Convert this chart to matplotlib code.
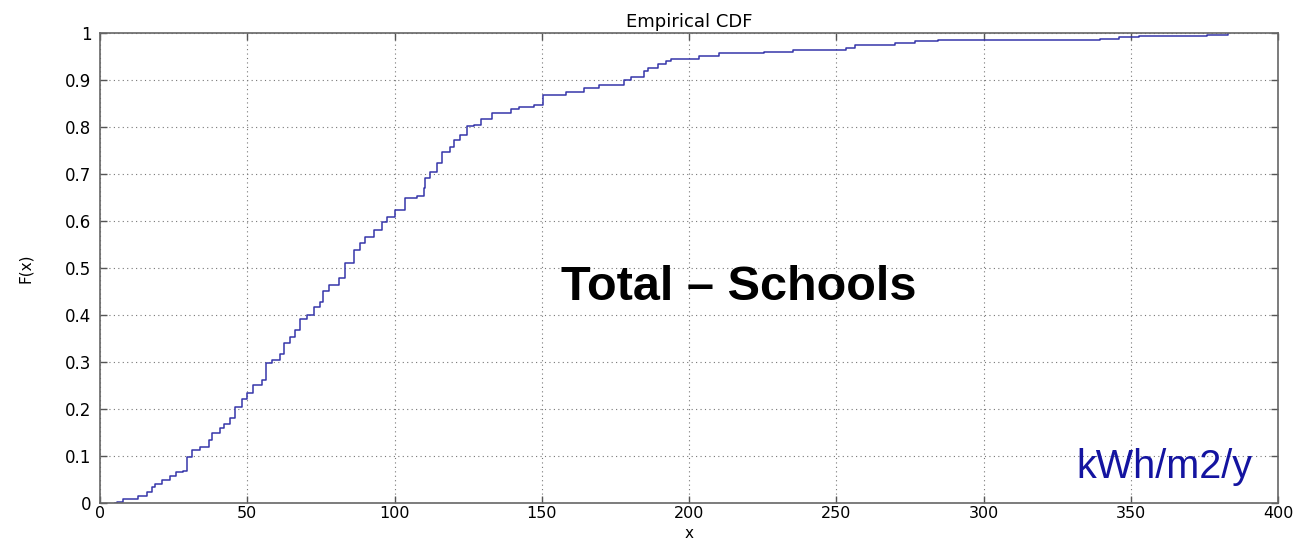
import matplotlib
matplotlib.use("Agg")
import matplotlib.pyplot as plt

# ECDF breakpoints (x value, F(x) after the step)
x_steps = [5.0, 5.7, 7.9, 13, 15.9, 17.6, 18.7, 21, 23.8, 25.9, 28.3, 29.5, 31.2, 34,
           37.1, 38, 40.6, 42, 44.2, 45.9, 48.2, 49.9, 51.9, 55, 56.4, 58.4, 61.2,
           62.6, 64.6, 66.3, 68, 70.3, 72.8, 74.8, 75.6, 77.7, 81, 83.3, 86.2, 88.4,
           90.1, 93, 95.8, 97.5, 100.3, 103.7, 107.7, 110, 110.5, 112.2, 114.5,
           116.2, 119, 120.2, 122.4, 124.7, 127, 129.3, 133.2, 139.5, 142.3, 147.4,
           150.4, 158.2, 164.4, 169.5, 178, 180.3, 184.8, 186, 189.3, 192.2, 193.9,
           203.5, 210.3, 225.6, 235.3, 253.4, 256.2, 269.8, 276.6, 284.6, 339.6,
           345.8, 352.6, 375.9, 383]
f_steps = [0.0, 0.003, 0.008, 0.015, 0.024, 0.035, 0.04, 0.049, 0.057, 0.065, 0.069,
           0.097, 0.113, 0.12, 0.134, 0.148, 0.159, 0.168, 0.18, 0.205, 0.221, 0.235,
           0.251, 0.262, 0.297, 0.304, 0.317, 0.34, 0.353, 0.368, 0.391, 0.4, 0.418,
           0.428, 0.45, 0.464, 0.478, 0.51, 0.538, 0.553, 0.565, 0.581, 0.598, 0.609,
           0.623, 0.648, 0.653, 0.67, 0.691, 0.705, 0.723, 0.747, 0.758, 0.772, 0.783,
           0.801, 0.804, 0.816, 0.83, 0.838, 0.843, 0.847, 0.868, 0.875, 0.882, 0.889,
           0.899, 0.906, 0.918, 0.925, 0.934, 0.941, 0.944, 0.951, 0.957, 0.959, 0.963,
           0.967, 0.974, 0.978, 0.982, 0.986, 0.988, 0.991, 0.994, 0.996, 1.0]

x_ticks = [0, 50, 100, 150, 200, 250, 300, 350, 400]
y_ticks = [0, 0.1, 0.2, 0.3, 0.4, 0.5, 0.6, 0.7, 0.8, 0.9, 1]
y_ticklabels = ["0", "0.1", "0.2", "0.3", "0.4", "0.5", "0.6", "0.7", "0.8", "0.9", "1"]

plt.rcParams["font.family"] = ["DejaVu Sans"]

fig = plt.figure(figsize=(13.15, 5.4), dpi=100)
ax = fig.add_axes([0.076, 0.0685, 0.896, 0.8705])

ax.step(x_steps, f_steps, where="post", color="#3535aa", lw=1.1)

ax.set_xlim(0, 400)
ax.set_ylim(0, 1)
ax.set_xticks(x_ticks)
ax.set_yticks(y_ticks)
ax.set_yticklabels(y_ticklabels)
ax.tick_params(direction="in", length=5, width=1, top=True, right=True,
               labelsize=12, colors="#555555", labelcolor="black", pad=6)
ax.tick_params(axis="x", pad=2, labelsize=11.5)
ax.grid(True, ls=(0, (1, 3)), color="#777777", lw=0.8)
for s in ax.spines.values():
    s.set_color("#666666")
    s.set_linewidth(1.2)

ax.set_title("Empirical CDF", fontsize=13, pad=4)
ax.set_xlabel("x", fontsize=11, va="center")
ax.xaxis.set_label_coords(0.5, -0.064)
ax.set_ylabel("F(x)", fontsize=11, va="center")
ax.yaxis.set_label_coords(-0.063, 0.5)

ax.text(217, 0.458, "Total \u2013 Schools", fontsize=35, fontweight="bold",
        family=["Liberation Sans", "DejaVu Sans"], ha="center", va="center")
ax.text(331.5, 0.053, "kWh/m2/y", fontsize=28.5, color="#1414a0",
        family=["Liberation Sans", "DejaVu Sans"], ha="left", va="baseline")

fig.savefig("out.png", dpi=100)
